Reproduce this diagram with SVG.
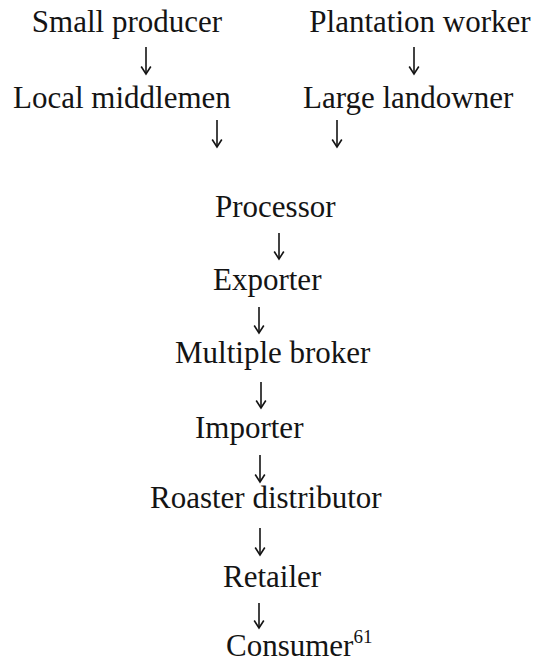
<svg xmlns="http://www.w3.org/2000/svg" width="538" height="663" viewBox="0 0 538 663">
<defs>
<style>
.t{font-family:"Liberation Serif","Times New Roman",serif;font-size:31px;fill:#141414}
.s{font-family:"Liberation Serif","Times New Roman",serif;font-size:19px;fill:#141414}
.a{stroke:#141414;stroke-width:1.6;fill:none}
</style>
<marker id="ah" markerWidth="12" markerHeight="12" refX="9.5" refY="6" markerUnits="userSpaceOnUse" orient="auto" viewBox="0 0 12 12">
<path d="M2,1.2 L9.5,6 L2,10.8" fill="none" stroke="#141414" stroke-width="1.6"/>
</marker>
</defs>
<rect width="538" height="663" fill="#fff"/>
<g id="connectors">
<path class="a" d="M146,47 V74" marker-end="url(#ah)"/>
<path class="a" d="M414,47 V74" marker-end="url(#ah)"/>
<path class="a" d="M217,120 V147" marker-end="url(#ah)"/>
<path class="a" d="M337,120 V147" marker-end="url(#ah)"/>
<path class="a" d="M279,233 V259" marker-end="url(#ah)"/>
<path class="a" d="M259,307 V333" marker-end="url(#ah)"/>
<path class="a" d="M261,382 V408" marker-end="url(#ah)"/>
<path class="a" d="M260,455 V482" marker-end="url(#ah)"/>
<path class="a" d="M260,528 V555" marker-end="url(#ah)"/>
<path class="a" d="M259,603 V628" marker-end="url(#ah)"/>
</g>
<g id="small-producer"><text class="t" x="127" y="32" text-anchor="middle">Small producer</text></g>
<g id="plantation-worker"><text class="t" x="420" y="32" text-anchor="middle">Plantation worker</text></g>
<g id="local-middlemen"><text class="t" x="13" y="108">Local middlemen</text></g>
<g id="large-landowner"><text class="t" x="303" y="108">Large landowner</text></g>
<g id="processor"><text class="t" x="215" y="217">Processor</text></g>
<g id="exporter"><text class="t" x="213" y="290">Exporter</text></g>
<g id="multiple-broker"><text class="t" x="175" y="363">Multiple broker</text></g>
<g id="importer"><text class="t" x="195" y="438">Importer</text></g>
<g id="roaster-distributor"><text class="t" x="150" y="508">Roaster distributor</text></g>
<g id="retailer"><text class="t" x="223" y="587">Retailer</text></g>
<g id="consumer"><text class="t" x="226" y="656">Consumer<tspan class="s" dy="-13">61</tspan></text></g>
</svg>
